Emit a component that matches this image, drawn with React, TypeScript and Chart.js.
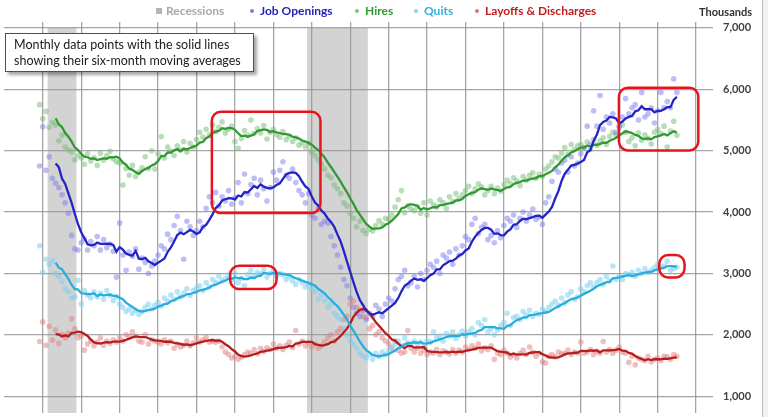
import React, { useEffect, useRef } from "react";
import { Chart, registerables } from "chart.js";

Chart.register(...registerables);

// Monthly JOLTS values, thousands. Index 0 = Dec 2000, index 199 = Jul 2017.
const jobOpenings = [
  4750,
  5390, 4680, 4900, 4550, 4470, 4400, 4280, 4150, 3980, 3620, 3400, 3380,
  3500, 3560, 3380, 3520, 3450, 3600, 3380, 3550, 3420, 3480, 3360, 2940,
  3820, 3300, 3050, 3350, 3280, 3400, 3070, 3250, 3180, 3000, 3120, 3200,
  3300, 3450, 3400, 3640, 3550, 3780, 3930, 3700, 3230, 3850, 3760, 3620,
  3700, 3850, 3760, 4060, 4250, 4150, 4320, 4100, 4250, 4180, 4350, 4130,
  4230, 4480, 4150, 4620, 4300, 4450, 4550, 4280, 4520, 4380, 4180, 4400,
  4650, 4520, 4680, 4820, 4600, 4550, 4700, 4480, 4350, 4280, 4150, 4300,
  3950, 3900, 4050, 3800, 3850, 3820, 3600, 3450, 3300, 3100, 2900, 2800,
  2600, 2450, 2350, 2300, 2400, 2250, 2350, 2300, 2480, 2420, 2300, 2500,
  2600, 2550, 2750, 2900, 2950, 3050, 2800, 2850, 2950, 2780, 3000, 2900,
  3050, 3150, 3100, 3200, 3000, 3300, 3250, 3350, 3150, 3400, 3300, 3450,
  3600, 3550, 3800, 3900, 3650, 3750, 3800, 3550, 3620, 3500, 3700, 3580,
  3780, 3900, 3850, 3950, 3750, 3900, 4000, 3850, 3950, 4050, 3880, 3920,
  3800, 4150, 4250, 4500, 4700, 4650, 4800, 4850, 4650, 4900, 4750, 4800,
  4950, 5050, 5400, 5100, 5650, 5400, 5900, 5350, 5550, 5450, 5600, 5300,
  5400, 5550, 5850, 5600, 5700, 5750, 5500, 5950, 5550, 5600, 5700, 5450,
  5650, 5950, 5700, 5800, 5700, 6170, 5950,
];

const hires = [
  5750,
  5520, 5640, 5380, 5460, 5420, 5160, 5250, 5060, 5010, 4980, 4850, 4920,
  4880, 4780, 4950, 4830, 4890, 4760, 4960, 4850, 4920, 4990, 4870, 4820,
  4800, 4440, 4710, 4600, 4760, 4580, 4650, 4720, 4900, 4710, 5000, 4700,
  4950, 5230, 4880, 5060, 4990, 4920, 5080, 5010, 5150, 4980, 5120, 5060,
  5180, 5300, 5220, 5350, 5260, 5420, 5310, 5380, 5470, 5290, 5350, 5400,
  5150, 5040, 5200, 5330, 5250, 5500, 5280, 5360, 5290, 5410, 5190, 5300,
  5350, 5260, 5220, 5310, 5180, 5240, 5150, 5210, 5090, 5130, 5060, 5120,
  4980, 4920, 4850, 4780, 4700, 4600, 4560, 4440, 4380, 4300, 4150, 4100,
  3980, 3900, 3760, 3850, 3700, 3650, 3720, 3690, 3780, 3860, 3800, 3900,
  3880, 3950, 4080, 4200, 4350, 3990, 4100, 4050, 4020, 4090, 3980, 4150,
  3950, 4180, 4120, 4080, 4200, 4150, 4060, 4250, 4170, 4300, 4220, 4280,
  4350, 4420, 4300, 4380, 4460, 4410, 4280, 4350, 4420, 4300, 4390, 4340,
  4450, 4520, 4470, 4560, 4510, 4430, 4580, 4520, 4600, 4640, 4550, 4620,
  4580, 4700, 4750, 4820, 4900, 4880, 4960, 5050, 4940, 5100, 5020, 5080,
  5100, 5050, 5140, 5020, 5180, 5090, 5160, 5210, 5100, 5230, 5300, 5260,
  5380, 5420, 5300, 5150, 5210, 5080, 5290, 5170, 5260, 5200, 5110, 5300,
  5350, 5280, 5400, 5060, 5320, 5480, 5250,
];

const quits = [
  3450,
  3020, 3230, 3150, 3210, 3000, 2950, 2870, 2750, 2700, 2600, 2620, 2890,
  2500, 2720, 2650, 2600, 2700, 2620, 2680, 2580, 2720, 2640, 2560, 2620,
  2500, 2450, 2380, 2420, 2350, 2400, 2330, 2380, 2450, 2500, 2420, 2480,
  2530, 2470, 2600, 2550, 2650, 2580, 2700, 2620, 2680, 2750, 2640, 2720,
  2760, 2800, 2720, 2850, 2780, 2900, 2850, 2950, 2880, 2920, 2980, 2900,
  3000, 2850, 2920, 2800, 2980, 3050, 2950, 3020, 2990, 3060, 2940, 3000,
  3050, 2960, 3000, 2980, 2900, 2950, 2880, 2820, 2900, 2850, 2780, 2830,
  2750, 2700, 2580, 2650, 2550, 2450, 2500, 2350, 2300, 2250, 2100, 2000,
  1900, 1850, 1780, 1700, 1650, 1620, 1680, 1600, 1700, 1650, 1720, 1680,
  1750, 1800, 1850, 1900, 1820, 1950, 1870, 1830, 1900, 1850, 1880, 1800,
  1900, 1880, 2050, 1950, 1980, 1900, 2020, 1980, 2050, 1940, 2000, 2060,
  1980, 2050, 2100, 2000, 2200, 2150, 2250, 2050, 2100, 2000, 2080, 2150,
  2200, 2350, 2150, 2280, 2300, 2250, 2380, 2320, 2400, 2300, 2350, 2330,
  2420, 2380, 2450, 2500, 2550, 2480, 2600, 2520, 2650, 2700, 2580, 2620,
  2750, 2700, 2800, 2850, 2780, 2850, 2900, 2820, 2950, 2880, 3120, 2900,
  2950, 2900, 3000, 2980, 3020, 2950, 3050, 3000, 3080, 3020, 3050, 3100,
  3150, 3100, 3120, 3200, 3050, 3080, 3100,
];

const layoffs = [
  1890,
  2210, 1830, 2140, 1910, 2080, 1860, 2010, 1950, 2030, 2260, 2100, 1950,
  1980, 1750, 1850, 1900, 1820, 1880, 1950, 1830, 1900, 1860, 1920, 1880,
  1950, 1900, 2000, 1970, 2050, 1980, 1900, 1880, 2000, 1850, 1920, 1900,
  1880, 1850, 1920, 1870, 1900, 1780, 1850, 1800, 1830, 1900, 1820, 1870,
  1950, 1880, 1920, 1960, 1880, 1900, 1880, 1900, 1800, 1720, 1680, 1620,
  1650, 1600, 1640, 1680, 1720, 1700, 1760, 1690, 1780, 1730, 1790, 1760,
  1850, 1780, 1820, 1760, 1830, 1880, 1790, 2070, 1850, 1900, 1820, 1870,
  1800, 1850, 1780, 1820, 1880, 1950, 2000, 1900, 2050, 2100, 2250, 2300,
  2500, 2550, 2450, 2400, 2300, 2280, 2100, 2150, 2000, 2050, 1950, 1900,
  1850, 1780, 1900, 1750, 1700, 1720, 2070, 1780, 1720, 1780, 1700, 1750,
  1680, 1720, 1700, 1760, 1680, 1740, 1720, 1690, 1760, 1700, 1750, 1720,
  1800, 1760, 1820, 1780, 1850, 1740, 1790, 1760, 1820, 1600, 1700, 1680,
  1750, 1700, 1640, 1680, 1620, 1700, 1750, 1680, 1800, 1720, 1650, 1700,
  1560, 1540, 1650, 1680, 1640, 1720, 1690, 1700, 1750, 1680, 1720, 1700,
  1880, 1700, 1720, 1760, 1680, 1730, 1700, 1890, 1720, 1760, 1700, 1750,
  1800, 1720, 1700, 1550, 1650, 1510, 1620, 1600, 1580, 1650, 1560, 1600,
  1620, 1580, 1650, 1640, 1600, 1680, 1650,
];

// Recessions (month index): Mar 2001 - Nov 2001, Dec 2007 - Jun 2009
const recessionStart = [3, 84];
const recessionEnd = [11, 102];

// January of each year 2001 ... 2018 (vertical gridlines)
const yearTicks = [1, 13, 25, 37, 49, 61, 73, 85, 97, 109, 121, 133, 145, 157, 169, 181, 193, 205];
const valueTicks = [1000, 2000, 3000, 4000, 5000, 6000, 7000];

// Highlight boxes in data units (month index, thousands)
const boxFrom = [53.8, 180.9, 59.5, 193.5];
const boxTo = [87.7, 205.7, 74.0, 201.4];
const boxTop = [5634, 6027, 3124, 3302];
const boxBottom = [3984, 5005, 2747, 2935];

const MA_WINDOW = 6;

const series = [
  { name: "Job Openings", values: jobOpenings, line: "#2323c8", dot: "rgba(125,125,238,0.5)", text: "#2323c0" },
  { name: "Hires", values: hires, line: "#2f9a2f", dot: "rgba(115,188,115,0.5)", text: "#2f9a2f" },
  { name: "Quits", values: quits, line: "#27aede", dot: "rgba(125,208,238,0.55)", text: "#2fb0e0" },
  { name: "Layoffs & Discharges", values: layoffs, line: "#b41e1e", dot: "rgba(226,125,125,0.5)", text: "#c01e1e" },
];

function movingAverage(vals: number[]) {
  const out: { x: number; y: number }[] = [];
  for (let i = MA_WINDOW - 1; i < vals.length; i++) {
    let s = 0;
    for (let k = i - MA_WINDOW + 1; k <= i; k++) s += vals[k];
    out.push({ x: i, y: s / MA_WINDOW });
  }
  return out;
}

const recessionPlugin = {
  id: "recessions",
  beforeDraw(chart: any) {
    const { ctx, chartArea, scales } = chart;
    const xs = scales.x;
    const ys = scales.y;
    const top = ys.getPixelForValue(7000);
    ctx.save();
    ctx.fillStyle = "#d3d3d3";
    for (let i = 0; i < recessionStart.length; i++) {
      const a = xs.getPixelForValue(recessionStart[i] - 0.5);
      const b = xs.getPixelForValue(recessionEnd[i] + 0.5);
      ctx.fillRect(a, top, b - a, chartArea.bottom - top);
    }
    ctx.restore();
  },
};

const boxesPlugin = {
  id: "boxes",
  afterDatasetsDraw(chart: any) {
    const { ctx, scales } = chart;
    ctx.save();
    ctx.strokeStyle = "#e6141c";
    ctx.lineWidth = 2.5;
    for (let i = 0; i < boxFrom.length; i++) {
      const x0 = scales.x.getPixelForValue(boxFrom[i]);
      const x1 = scales.x.getPixelForValue(boxTo[i]);
      const y0 = scales.y.getPixelForValue(boxTop[i]);
      const y1 = scales.y.getPixelForValue(boxBottom[i]);
      ctx.beginPath();
      ctx.roundRect(x0, y0, x1 - x0, y1 - y0, 9);
      ctx.stroke();
    }
    ctx.restore();
  },
};

export default function App() {
  const ref = useRef<HTMLCanvasElement | null>(null);

  useEffect(() => {
    document.body.style.margin = "0";
    if (!ref.current) return;
    const datasets: any[] = [];
    series.forEach((s, i) => {
      datasets.push({
        label: s.name + " MA",
        data: movingAverage(s.values),
        borderColor: s.line,
        borderWidth: 2.3,
        pointRadius: 0,
        showLine: true,
        tension: 0,
        fill: false,
        order: i,
      });
    });
    series.forEach((s, i) => {
      datasets.push({
        label: s.name,
        data: s.values.map((v, k) => ({ x: k, y: v })),
        showLine: false,
        pointRadius: 2.8,
        pointBorderWidth: 0,
        pointBackgroundColor: s.dot,
        backgroundColor: s.dot,
        borderColor: s.dot,
        order: 10 + i,
      });
    });

    const gridColor = "rgba(150,150,150,0.85)";
    const chart = new Chart(ref.current, {
      type: "line",
      data: { datasets },
      options: {
        responsive: false,
        animation: false,
        layout: { padding: { top: 22, left: 0, right: 0, bottom: 0 } },
        plugins: { legend: { display: false }, tooltip: { enabled: false } },
        scales: {
          x: {
            type: "linear",
            min: -11.11,
            max: 210.28,
            afterBuildTicks: (s: any) => {
              s.ticks = yearTicks.map((v) => ({ value: v }));
            },
            afterFit: (s: any) => {
              s.height = 0;
            },
            ticks: { display: false },
            grid: { color: gridColor, lineWidth: 1.3, drawTicks: false },
            border: { display: false },
          },
          y: {
            type: "linear",
            position: "right",
            min: 725.8,
            max: 7096.8,
            afterBuildTicks: (s: any) => {
              s.ticks = valueTicks.map((v) => ({ value: v }));
            },
            afterFit: (s: any) => {
              s.width = 55;
              s.paddingTop = 0;
              s.paddingBottom = 0;
            },
            ticks: {
              padding: 10,
              color: "#404040",
              font: { family: "Lato", weight: "bold", size: 11 },
              callback: (v: any) => Number(v).toLocaleString("en-US"),
            },
            grid: { color: gridColor, lineWidth: 1.3, drawTicks: false },
            border: { display: false },
          },
        },
      } as any,
      plugins: [recessionPlugin, boxesPlugin],
    });
    return () => chart.destroy();
  }, []);

  const legendFont: React.CSSProperties = {
    position: "absolute",
    top: 3,
    fontFamily: "Lato, 'Open Sans', sans-serif",
    fontWeight: 700,
    fontSize: 12,
    lineHeight: "16px",
    whiteSpace: "nowrap",
  };
  const dot = (left: number, color: string): React.CSSProperties => ({
    position: "absolute",
    left,
    top: 9,
    width: 4,
    height: 4,
    borderRadius: 2,
    background: color,
  });

  return (
    <div style={{ position: "fixed", left: 0, top: 0, width: 768, height: 417, background: "#fff", overflow: "hidden" }}>
      <canvas ref={ref} width={768} height={417} style={{ position: "absolute", left: 0, top: 0, width: 768, height: 417 }} />
      <div style={{ position: "absolute", left: 156, top: 8, width: 6, height: 6, background: "#b4b4b4" }} />
      <div style={{ ...legendFont, left: 166, color: "#a8a8a8" }}>Recessions</div>
      <div style={dot(250, "#7f7fe6")} />
      <div style={{ ...legendFont, left: 260, color: series[0].text }}>{series[0].name}</div>
      <div style={dot(355, "#7cc47c")} />
      <div style={{ ...legendFont, left: 365, color: series[1].text }}>{series[1].name}</div>
      <div style={dot(414, "#86d2ee")} />
      <div style={{ ...legendFont, left: 424, color: series[2].text }}>{series[2].name}</div>
      <div style={dot(475, "#e07878")} />
      <div style={{ ...legendFont, left: 485, color: series[3].text }}>{series[3].name}</div>
      <div
        style={{
          position: "absolute",
          right: 16,
          top: 5,
          fontFamily: "Lato, sans-serif",
          fontWeight: 700,
          fontSize: 11,
          color: "#303030",
        }}
      >
        Thousands
      </div>
      <div
        style={{
          position: "absolute",
          left: 5,
          top: 33,
          width: 249,
          height: 39,
          background: "#fff",
          border: "1px solid #505050",
          boxShadow: "3px 3px 3px rgba(0,0,0,0.35)",
          fontFamily: "Lato, 'Open Sans', sans-serif",
          fontSize: 12.5,
          lineHeight: "16px",
          color: "#202020",
          padding: "3px 0 0 8px",
          boxSizing: "border-box",
        }}
      >
        Monthly data points with the solid lines
        <br />
        showing their six-month moving averages
      </div>
      <div style={{ position: "absolute", left: 762, top: 0, width: 6, height: 417, background: "#f2f2f2", borderLeft: "1px solid #bdbdbd" }} />
    </div>
  );
}
